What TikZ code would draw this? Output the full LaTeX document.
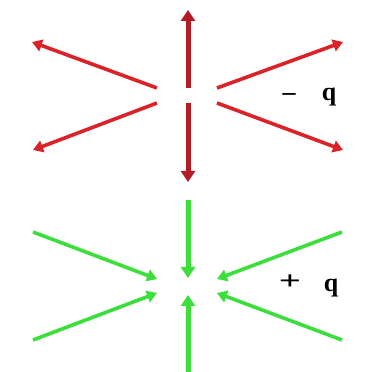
\documentclass[tikz,border=0pt]{standalone}
\usepackage{fontspec}
\setmainfont{Liberation Serif}
\usetikzlibrary{arrows.meta}
\definecolor{redA}{RGB}{218,34,40}
\definecolor{redV}{RGB}{180,28,36}
\definecolor{greenA}{RGB}{60,222,60}
\tikzset{
  x=1pt,y=1pt,
  redarrow/.style={draw=redA, line width=3.6pt, -{Triangle[width=12pt,length=10pt]}, color=redA},
  redvert/.style={draw=redV, line width=5pt, -{Triangle[width=14pt,length=11pt]}, color=redV},
  greenarrow/.style={draw=greenA, line width=3.6pt, -{Triangle[width=12pt,length=10pt]}, color=greenA},
  greenvert/.style={draw=greenA, line width=5pt, -{Triangle[width=14pt,length=11pt]}, color=greenA},
  charge/.style={font=\fontsize{26}{28}\selectfont\bfseries, inner sep=0pt, anchor=base}
}
\begin{document}
\begin{tikzpicture}
\useasboundingbox (0,0) rectangle (378,372);
% top (negative charge) group
\coordinate (tUs) at (188,284); \coordinate (tUe) at (188,362);
\coordinate (tDs) at (188,269); \coordinate (tDe) at (188,190);
\coordinate (tULs) at (157,284); \coordinate (tULe) at (32,330);
\coordinate (tURs) at (217,284); \coordinate (tURe) at (343,330);
\coordinate (tLLs) at (157,269); \coordinate (tLLe) at (33,222);
\coordinate (tLRs) at (217,269); \coordinate (tLRe) at (343,222);
\draw[redvert] (tUs) -- (tUe);
\draw[redvert] (tDs) -- (tDe);
\draw[redarrow] (tULs) -- (tULe);
\draw[redarrow] (tURs) -- (tURe);
\draw[redarrow] (tLLs) -- (tLLe);
\draw[redarrow] (tLRs) -- (tLRe);
\node[charge] (minus) at (289,271) {–};
\node[charge] (qneg) at (329,271) {q};
% bottom (positive charge) group
\coordinate (bUs) at (188,172); \coordinate (bUe) at (188,94);
\coordinate (bDs) at (188,0); \coordinate (bDe) at (188,77);
\coordinate (bULs) at (33,140); \coordinate (bULe) at (157,93);
\coordinate (bURs) at (342,140); \coordinate (bURe) at (217,93);
\coordinate (bLLs) at (33,32); \coordinate (bLLe) at (157,79);
\coordinate (bLRs) at (342,32); \coordinate (bLRe) at (217,79);
\draw[greenvert] (bUs) -- (bUe);
\draw[greenvert] (bDs) -- (bDe);
\draw[greenarrow] (bULs) -- (bULe);
\draw[greenarrow] (bURs) -- (bURe);
\draw[greenarrow] (bLLs) -- (bLLe);
\draw[greenarrow] (bLRs) -- (bLRe);
\node[charge, xscale=1.5] (plus) at (290,82) {+};
\node[charge] (qpos) at (331,80) {q};
\end{tikzpicture}
\end{document}
